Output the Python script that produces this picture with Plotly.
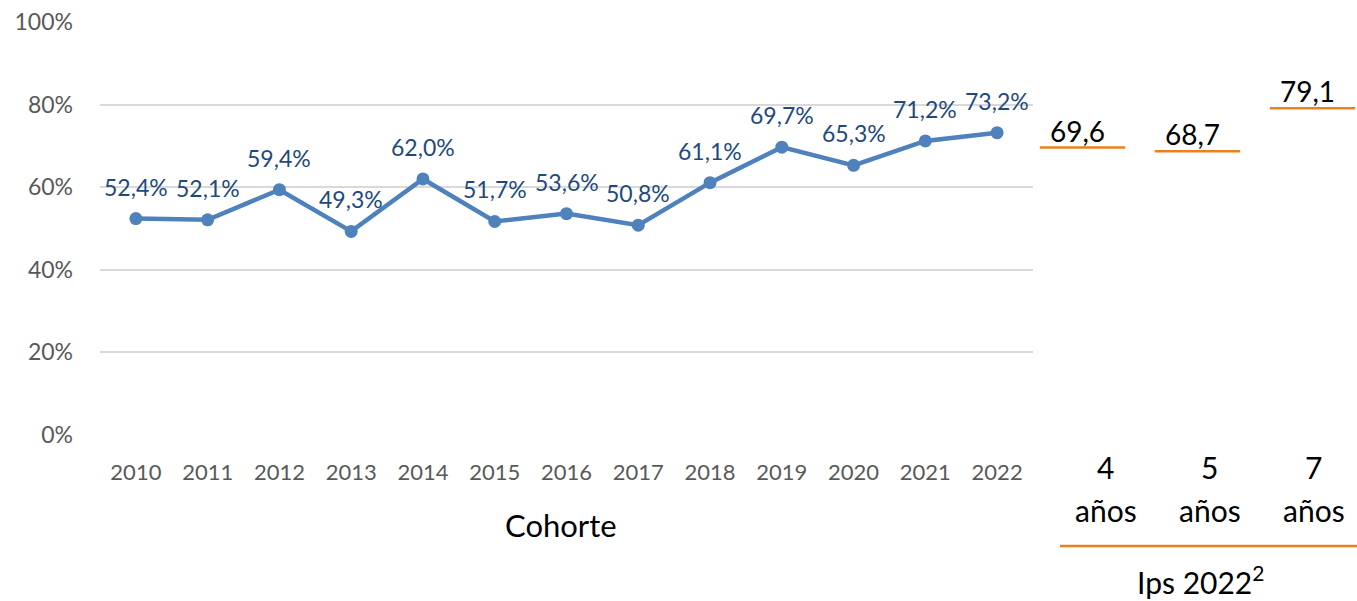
import plotly.graph_objects as go

# ---- data ----
cohorts = ["2010", "2011", "2012", "2013", "2014", "2015", "2016",
           "2017", "2018", "2019", "2020", "2021", "2022"]
rates = [52.4, 52.1, 59.4, 49.3, 62.0, 51.7, 53.6, 50.8, 61.1, 69.7, 65.3, 71.2, 73.2]

ips_years = [4, 5, 7]
ips_values = [69.6, 68.7, 79.1]
ips_unit = "años"
ips_title = "Ips 2022<sup>2</sup>"
x_title = "Cohorte"
y_ticks = [0, 20, 40, 60, 80, 100]

BLUE = "#4F81BD"
LABEL_BLUE = "#1F497D"
GRAY = "#595959"
GRID = "#D9D9D9"
ORANGE = "#E8821E"
FONT = "Lato"

W, H = 1357, 601
ML, MR, MT, MB = 100, 0, 22, 166
PW = W - ML - MR
PH = H - MT - MB
COL_SHIFT = [23, 12, 1]   # horizontal offset of the column captions (px)


def px_x(p):
    return (p - ML) / PW


def px_y(p):
    return (H - MB - p) / PH


def fmt(v, pct=True):
    s = f"{v:.1f}".replace(".", ",")
    return s + ("%" if pct else "")


fig = go.Figure()
idx = list(range(len(cohorts)))
fig.add_trace(go.Scatter(
    x=idx, y=rates, mode="lines+markers",
    line=dict(color=BLUE, width=4.5),
    marker=dict(color=BLUE, size=13),
    xaxis="x", yaxis="y", hoverinfo="skip", showlegend=False,
))

ips_pos = list(range(len(ips_years)))
fig.add_trace(go.Scatter(
    x=ips_pos, y=ips_values, mode="markers",
    marker=dict(symbol="line-ew", size=61, color=ORANGE,
                line=dict(color=ORANGE, width=2.5)),
    xaxis="x2", yaxis="y2", hoverinfo="skip", showlegend=False,
))

annotations = []
for i, v in zip(idx, rates):
    annotations.append(dict(
        x=i, y=v, xref="x", yref="y", text=fmt(v), showarrow=False,
        yshift=32, font=dict(family=FONT, size=23, color=LABEL_BLUE),
    ))
for i, v, n, sh in zip(ips_pos, ips_values, ips_years, COL_SHIFT):
    annotations.append(dict(
        x=i, y=v, xref="x2", yref="y2", text=fmt(v, pct=False), showarrow=False,
        yanchor="bottom", xshift=-5, yshift=-2,
        font=dict(family=FONT, size=28, color="black"),
    ))
    annotations.append(dict(
        x=i, y=px_y(467), xref="x2", yref="paper", text=str(n), showarrow=False,
        yanchor="middle", xshift=sh,
        font=dict(family=FONT, size=30, color="black"),
    ))
    annotations.append(dict(
        x=i, y=px_y(510), xref="x2", yref="paper", text=ips_unit, showarrow=False,
        yanchor="middle", xshift=sh,
        font=dict(family=FONT, size=30, color="black"),
    ))
annotations.append(dict(
    x=px_x(561), xref="paper", xanchor="center", y=px_y(525), yref="paper",
    text=x_title, showarrow=False, yanchor="middle",
    font=dict(family=FONT, size=31, color="black"),
))
annotations.append(dict(
    x=px_x(1200), xref="paper", xanchor="center", y=px_y(580), yref="paper",
    text=ips_title, showarrow=False, yanchor="middle",
    font=dict(family=FONT, size=30, color="black"),
))

fig.update_layout(
    width=W, height=H,
    margin=dict(l=ML, r=MR, t=MT, b=MB),
    paper_bgcolor="white", plot_bgcolor="rgba(0,0,0,0)",
    font=dict(family=FONT, color=GRAY),
    xaxis=dict(
        domain=[0, px_x(1033)], range=[-0.5, 12.5],
        tickvals=idx, ticktext=cohorts,
        showgrid=False, zeroline=False, showline=False, ticks="",
        tickfont=dict(family=FONT, size=22, color=GRAY),
        ticklabelstandoff=22, anchor="y",
    ),
    yaxis=dict(
        range=[0, 100], tickvals=y_ticks, ticktext=[f"{t}%" for t in y_ticks],
        showgrid=True, gridcolor=GRID, gridwidth=1.5, zeroline=False,
        showline=False, ticks="", ticklabelstandoff=26,
        tickfont=dict(family=FONT, size=23, color=GRAY), anchor="x",
    ),
    xaxis2=dict(
        domain=[px_x(1025), 1], range=[-0.5, 2.387],
        showticklabels=False,
        showgrid=False, zeroline=False, showline=False, ticks="",
        anchor="y2",
    ),
    yaxis2=dict(
        range=[0, 100], visible=False, showgrid=False, anchor="x2",
    ),
    annotations=annotations,
    shapes=[dict(
        type="line", xref="paper", yref="paper",
        x0=px_x(1060), x1=1, y0=px_y(546), y1=px_y(546),
        line=dict(color=ORANGE, width=2.5),
    )],
)

fig.write_html(
    "out.html",
    config={"displayModeBar": False},
    post_script="document.body.style.margin='0';document.body.style.padding='0';",
)
